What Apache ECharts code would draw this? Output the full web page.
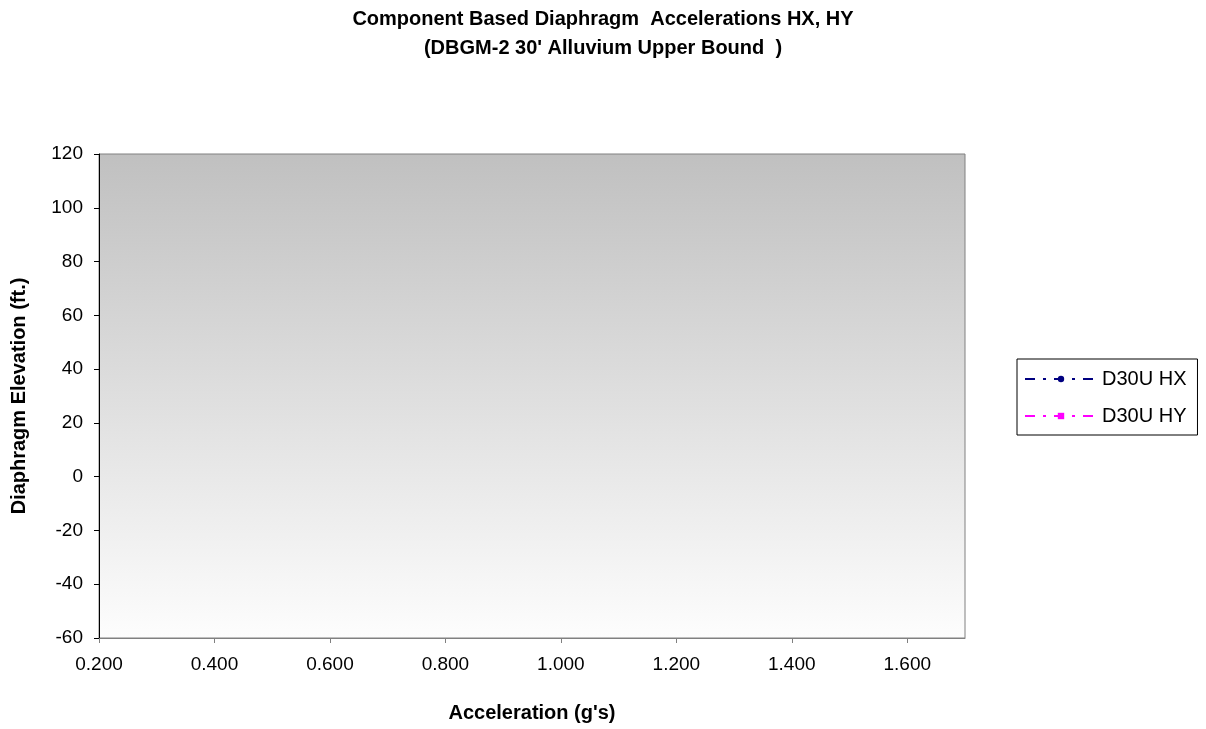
<!DOCTYPE html>
<html>
<head>
<meta charset="utf-8">
<script src="https://cdn.jsdelivr.net/npm/echarts@6/dist/echarts.min.js"></script>
<style>
html,body{margin:0;padding:0;background:#fff;}
#chart{width:1206px;height:729px;}
</style>
</head>
<body>
<div id="chart"></div>
<script>
// Data (no visible points in the reference chart)
const seriesNames = ["D30U HX", "D30U HY"];
const hxPoints = [];   // [acceleration, elevation]
const hyPoints = [];
const titleLines = ["Component Based Diaphragm  Accelerations HX, HY", "(DBGM-2 30' Alluvium Upper Bound  )"];
const xAxisTitle = "Acceleration (g's)";
const yAxisTitle = "Diaphragm Elevation (ft.)";

const FONT = "Liberation Sans, Arial, sans-serif";
const chart = echarts.init(document.getElementById('chart'));
chart.setOption({
  animation: false,
  backgroundColor: '#ffffff',
  title: {
    text: titleLines.join('\n'),
    left: 'center',
    top: 0,
    textStyle: {fontFamily: FONT, fontSize: 20, fontWeight: 'bold', color: '#000', lineHeight: 29}
  },
  grid: {
    left: 99, right: 241, top: 154, bottom: 91,
    show: true,
    borderColor: '#808080', borderWidth: 1,
    backgroundColor: new echarts.graphic.LinearGradient(0, 0, 0, 1, [
      {offset: 0, color: '#c0c0c0'},
      {offset: 1, color: '#fdfdfd'}
    ])
  },
  legend: {
    orient: 'vertical',
    left: 1017, top: 359,
    padding: [10, 11, 9, 7],
    itemGap: 17,
    itemWidth: 72, itemHeight: 8,
    borderColor: '#000', borderWidth: 1,
    backgroundColor: '#fff',
    textStyle: {fontFamily: FONT, fontSize: 20, color: '#000', lineHeight: 20},
    data: seriesNames
  },
  xAxis: {
    type: 'value',
    min: 0.2, max: 1.7, interval: 0.2,
    name: xAxisTitle,
    nameLocation: 'middle',
    nameGap: 65,
    nameTextStyle: {fontFamily: FONT, fontSize: 20, fontWeight: 'bold', color: '#000'},
    axisLine: {show: true, onZero: false, lineStyle: {color: '#808080', width: 1}},
    axisTick: {show: true, inside: false, length: 5, lineStyle: {color: '#808080'}},
    splitLine: {show: false},
    axisLabel: {
      fontFamily: FONT, fontSize: 19, color: '#000', margin: 17,
      showMaxLabel: false,
      formatter: v => v.toFixed(3)
    }
  },
  yAxis: {
    type: 'value',
    min: -60, max: 120, interval: 20,
    name: yAxisTitle,
    nameLocation: 'middle',
    nameGap: 70,
    nameRotate: 90,
    nameTextStyle: {fontFamily: FONT, fontSize: 20, fontWeight: 'bold', color: '#000'},
    axisLine: {show: true, onZero: false, lineStyle: {color: '#000', width: 1}},
    axisTick: {show: true, inside: false, length: 5, lineStyle: {color: '#000'}},
    splitLine: {show: false},
    axisLabel: {fontFamily: FONT, fontSize: 19, color: '#000', margin: 16}
  },
  series: [
    {
      name: seriesNames[0], type: 'line', data: hxPoints,
      symbol: 'circle', symbolSize: 6,
      lineStyle: {color: '#000080', width: 2, type: [10, 8, 3, 8]},
      itemStyle: {color: '#000080'}
    },
    {
      name: seriesNames[1], type: 'line', data: hyPoints,
      symbol: 'rect', symbolSize: 6,
      lineStyle: {color: '#ff00ff', width: 2, type: [10, 8, 3, 8]},
      itemStyle: {color: '#ff00ff'}
    }
  ]
});
</script>
</body>
</html>
